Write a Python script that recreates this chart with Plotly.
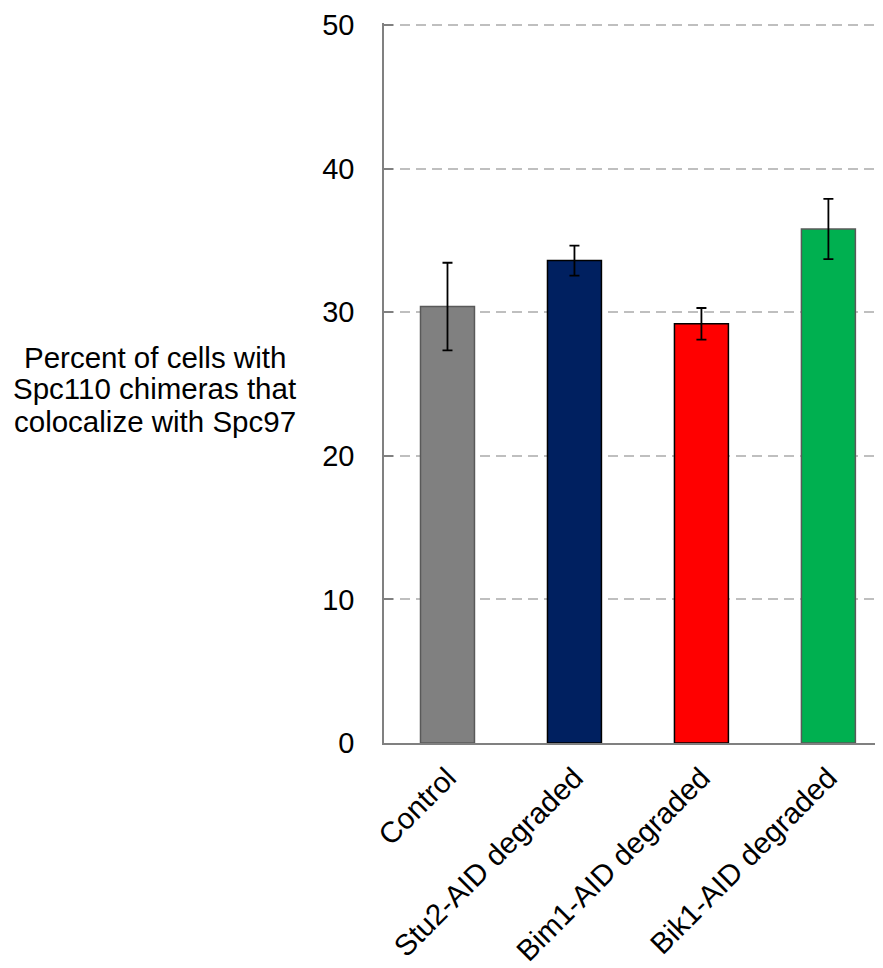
import plotly.graph_objects as go

categories = ["Control", "Stu2-AID degraded", "Bim1-AID degraded", "Bik1-AID degraded"]
values = [30.4, 33.6, 29.2, 35.8]
errors = [3.05, 1.05, 1.1, 2.1]
fill_colors = ["#808080", "#002060", "#FF0000", "#00B050"]
line_colors = ["#595959", "#000000", "#000000", "#595959"]
y_ticks = [0, 10, 20, 30, 40, 50]
y_title_lines = ["Percent of cells with", "Spc110 chimeras that", "colocalize with Spc97"]
y_title_pos = [0.5361, 0.4917, 0.4470]

fig = go.Figure()
fig.add_trace(go.Bar(
    x=categories, y=values,
    width=0.425,
    marker=dict(color=fill_colors, line=dict(color=line_colors, width=1.5)),
    error_y=dict(type="data", array=errors, visible=True, color="#000000",
                 thickness=1.8, width=5),
))

annotations = [dict(
    text=t, xref="paper", yref="paper",
    x=-0.459, y=yy, xanchor="center", yanchor="middle",
    showarrow=False, align="center",
    font=dict(size=29.5, color="#000000"),
) for t, yy in zip(y_title_lines, y_title_pos)]

fig.update_layout(
    width=875, height=960,
    margin=dict(l=376, r=0, t=15, b=225, autoexpand=False),
    plot_bgcolor="white", paper_bgcolor="white",
    showlegend=False,
    font=dict(family="Liberation Sans, Arial, sans-serif", color="#000000"),
    xaxis=dict(
        range=[-0.5, 3.43],
        showline=True, linecolor="#808080", linewidth=1.5,
        ticks="", tickangle=-45,
        tickfont=dict(size=29.5, color="#000000"),
        ticklabelstandoff=4,
        showgrid=False, automargin=False,
    ),
    yaxis=dict(
        range=[0, 50.15], tickvals=y_ticks,
        showline=True, linecolor="#808080", linewidth=1.5,
        ticks="inside", ticklen=9, tickcolor="#808080", tickwidth=1.5,
        tickfont=dict(size=29, color="#000000"),
        ticklabelstandoff=22,
        showgrid=True, gridcolor="#BFBFBF", griddash="10px,6px", gridwidth=1.5,
        zeroline=False, automargin=False,
    ),
    annotations=annotations,
)

fig.write_html("out.html")
